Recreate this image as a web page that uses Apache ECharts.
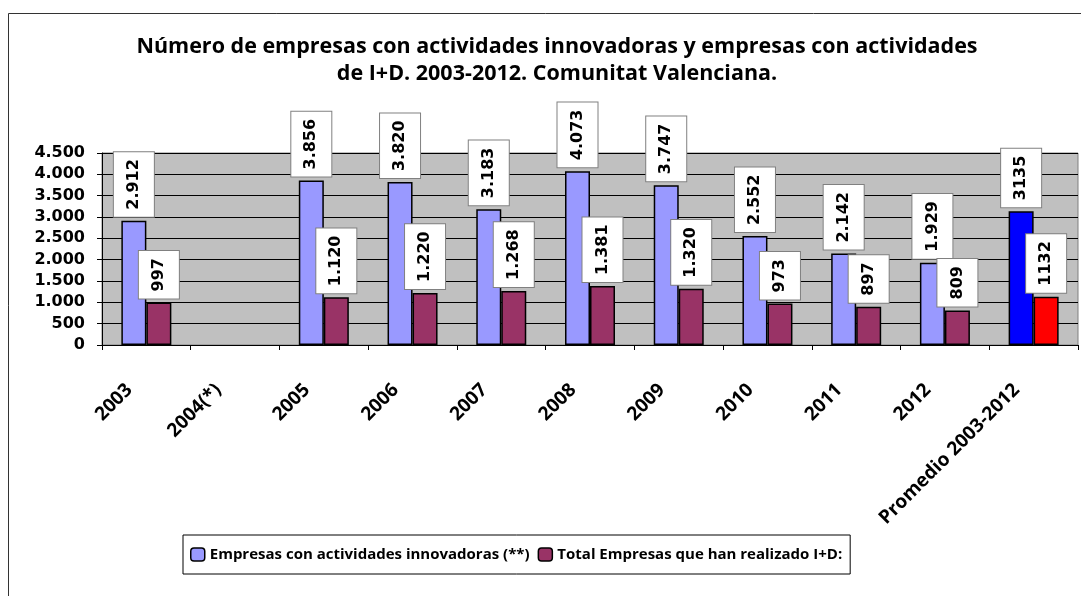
<!DOCTYPE html>
<html>
<head>
<meta charset="utf-8">
<script src="https://cdn.jsdelivr.net/npm/echarts@6/dist/echarts.min.js"></script>
<style>
html,body{margin:0;padding:0;background:#fff;}
#chart{width:1081px;height:596px;}
</style>
</head>
<body>
<div id="chart"></div>
<script>
const categories = ['2003','2004(*)','2005','2006','2007','2008','2009','2010','2011','2012','Promedio 2003-2012'];
const innovadoras = [2912, null, 3856, 3820, 3183, 4073, 3747, 2552, 2142, 1929, 3135];
const idEmpresas = [997, null, 1120, 1220, 1268, 1381, 1320, 973, 897, 809, 1132];
const seriesNames = ['Empresas con actividades innovadoras (**)', 'Total Empresas que han realizado I+D:'];
const titleLines = ['Número de empresas con actividades innovadoras y empresas con actividades', 'de I+D. 2003-2012. Comunitat Valenciana.'];
const yMax = 4500, yStep = 500;

function fmt(v){
  const s = String(Math.round(v));
  return s.replace(/\B(?=(\d{3})+(?!\d))/g, '.');
}
const lastIdx = categories.length - 1;

function mkData(arr, special){
  return arr.map((v,i)=> i===lastIdx ? {value:v, itemStyle:{color:special}} : v);
}

const labelOpt = {
  show:true,
  position:'top',
  distance:4,
  rotate:90,
  align:'left',
  verticalAlign:'middle',
  fontFamily:'DejaVu Sans',
  fontWeight:'bold',
  fontSize:16,
  color:'#000',
  backgroundColor:'#fff',
  borderColor:'#808080',
  borderWidth:1,
  padding:[12,7,12,7],
  formatter:function(p){
    if(p.value==null) return '';
    return p.dataIndex===lastIdx ? String(p.value) : fmt(p.value);
  }
};

const chart = echarts.init(document.getElementById('chart'), null, {renderer:'canvas'});
chart.setOption({
  animation:false,
  backgroundColor:'#fff',
  title:{
    text: titleLines.join('\n'),
    left:552, top:28, textAlign:'center',
    textStyle:{fontFamily:'Open Sans', fontWeight:'bold', fontSize:21.5, lineHeight:27, color:'#000', align:'center'}
  },
  graphic:[{
    type:'rect', silent:true, z:-1,
    shape:{x:8.5,y:13.5,width:1090,height:600},
    style:{fill:'none', stroke:'#333', lineWidth:1}
  }],
  legend:{
    left:183, top:535,
    itemWidth:14, itemHeight:13, itemGap:8,
    padding:[12,8,12,7],
    borderColor:'#000', borderWidth:1,
    textStyle:{fontFamily:'Open Sans', fontWeight:'bold', fontSize:15, color:'#000'},
    data:[
      {name:seriesNames[0], itemStyle:{color:'#9999FF', borderColor:'#000', borderWidth:1.5}},
      {name:seriesNames[1], itemStyle:{color:'#993366', borderColor:'#000', borderWidth:1.5}}
    ]
  },
  grid:{left:102, right:3, top:153, bottom:251, show:true, backgroundColor:'#C0C0C0', borderColor:'#808080', borderWidth:1},
  xAxis:{
    type:'category', data:categories,
    axisLine:{lineStyle:{color:'#000', width:1}},
    axisTick:{show:true, alignWithLabel:false, length:5, lineStyle:{color:'#000'}},
    axisLabel:{interval:0, rotate:45, margin:25, padding:[0,24,0,0], fontFamily:'Open Sans', fontWeight:'bold', fontSize:19, color:'#000'}
  },
  yAxis:{
    type:'value', min:0, max:yMax, interval:yStep,
    axisLine:{show:true, lineStyle:{color:'#000', width:1}},
    axisTick:{show:true, length:5, lineStyle:{color:'#000'}},
    splitLine:{lineStyle:{color:'#000', width:1}},
    axisLabel:{margin:17, fontFamily:'DejaVu Sans', fontWeight:'bold', fontSize:16, color:'#000', formatter:v=>fmt(v)}
  },
  series:[
    {name:seriesNames[0], type:'bar', data:mkData(innovadoras,'#0000FF'), barWidth:25, barGap:'0%',
     itemStyle:{color:'#9999FF', borderColor:'#000', borderWidth:1.5}, label:labelOpt},
    {name:seriesNames[1], type:'bar', data:mkData(idEmpresas,'#FF0000'), barWidth:25, barGap:'0%',
     itemStyle:{color:'#993366', borderColor:'#000', borderWidth:1.5}, label:labelOpt}
  ]
});
</script>
</body>
</html>
